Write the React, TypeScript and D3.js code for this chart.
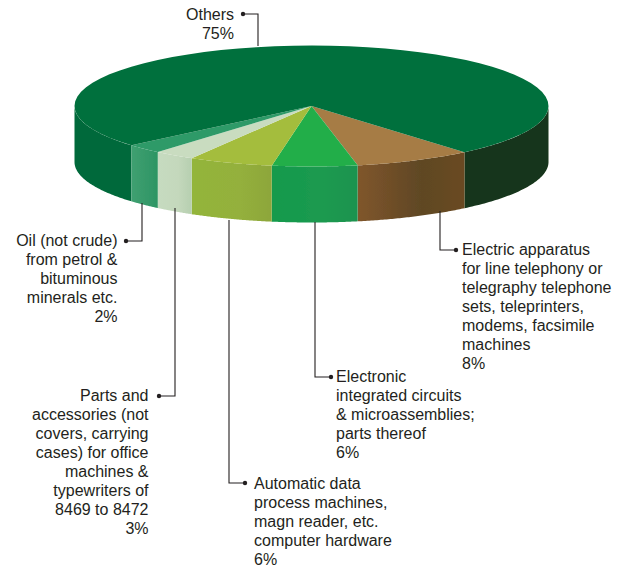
import React from "react";
import * as d3 from "d3";

const categories = ["Electric", "Circuits", "Automatic", "Parts", "Oil", "Others"];
// Swept share of each slice as measured on the picture; the printed percentages are in labelLines
const drawnShares = [8.05, 5.8, 5.75, 2.8, 2.5, 75.1];
const topColors = ["#a67c45", "#22ae4a", "#a4bd3c", "#c9dcc0", "#2f9a68", "#06703c"];
const sideStops = [
  ["#80562c", "#5f4724", "#6a4a20"],
  ["#149a4c", "#1c9a50", "#1f9350"],
  ["#93b53a", "#94b03c", "#8da63a"],
  ["#c6dbc0", "#c4d8bc", "#b6cfb0"],
  ["#3fa070", "#35996a", "#2c9563"],
];

const labelAnchors = ["start", "start", "start", "end", "end", "end"];
const labelLines = [
  ["Electric apparatus", "for line telephony or", "telegraphy telephone", "sets, teleprinters,", "modems, facsimile", "machines", "8%"],
  ["Electronic", "integrated circuits", "& microassemblies;", "parts thereof", "6%"],
  ["Automatic data", "process machines,", "magn reader, etc.", "computer hardware", "6%"],
  ["Parts and", "accessories (not", "covers, carrying", "cases) for office", "machines &", "typewriters of", "8469 to 8472", "3%"],
  ["Oil (not crude)", "from petrol &", "bituminous", "minerals etc.", "2%"],
  ["Others", "75%"],
];
// leader: [x on pie edge, y on pie edge, elbow y, dot x, text x, first baseline]
const leaders = [
  [440, 211, 250, 456, 462, 255],
  [315, 222, 377, 331, 336, 382],
  [229, 220, 483, 245, 254, 489],
  [175, 208, 396, 159, 148.5, 400.5],
  [142, 203, 241, 126, 117.5, 245.5],
  [258, 46, 14, 243, 234, 20],
];

const CX = 311.5, CY = 106, RX = 237, RY = 60.5, DEPTH = 56, LH = 19;
const START = (40.2 * Math.PI) / 180;

export default function App() {
  const arcs = d3.pie<number>().sort(null).value((d) => d)(drawnShares);
  const px = d3.scaleLinear().domain([-1, 1]).range([CX - RX, CX + RX]);
  const py = d3.scaleLinear().domain([-1, 1]).range([CY - RY, CY + RY]);
  const pt = (a: number, off = 0): [number, number] => [px(Math.sin(a)), py(Math.cos(a)) + off];
  const sample = (a0: number, a1: number) => d3.range(0, 61).map((i) => a0 + ((a1 - a0) * i) / 60);
  const line = d3.line<[number, number]>();

  // angle 0 = front of the pie; slices run clockwise on screen from the right of the front
  const slices = arcs.map((d, i) => ({
    i,
    a0: START - d.startAngle,
    a1: START - d.endAngle,
  }));
  const topPath = (a0: number, a1: number) => line([[CX, CY], ...sample(a0, a1).map((a) => pt(a))])! + "Z";
  const sidePath = (a0: number, a1: number) => {
    const pts = sample(a0, a1);
    return line([...pts.map((a) => pt(a)), ...pts.slice().reverse().map((a) => pt(a, DEPTH))])! + "Z";
  };

  return (
    <svg width={622} height={568} style={{ position: "absolute", left: 0, top: 0 }} fontFamily="Liberation Sans, Arial, sans-serif" fontSize={16} fill="#231f20">
      <defs>
        <filter id="soft"><feGaussianBlur stdDeviation="0.5" /></filter>
        {sideStops.map((s, i) => (
          <linearGradient key={i} id={`g${i}`} x1="0" x2="1" y1="0" y2="0">
            <stop offset="0" stopColor={s[0]} />
            <stop offset="0.6" stopColor={s[1]} />
            <stop offset="1" stopColor={s[2]} />
          </linearGradient>
        ))}
      </defs>
      <rect width={622} height={568} fill="#fff" />
      <g filter="url(#soft)">
        <path d={sidePath(START, Math.PI / 2)} fill="#16361a" />
        <path d={sidePath(-Math.PI / 2, slices[5].a0)} fill="#06693a" />
        {slices.slice(0, 5).map((s) => (
          <path key={s.i} d={sidePath(s.a0, s.a1)} fill={`url(#g${s.i})`} />
        ))}
        {slices.map((s) => (
          <path key={s.i} d={topPath(s.a0, s.a1)} fill={topColors[s.i]} />
        ))}
      </g>
      {leaders.map((l, i) => {
        const [ex, ey, ly, dx, tx, by] = l;
        return (
          <g key={categories[i]}>
            <path d={`M${ex},${ey}V${ly}H${dx}`} fill="none" stroke="#231f20" strokeWidth={1.1} />
            <circle cx={dx} cy={ly} r={2.2} />
            <text textAnchor={labelAnchors[i]}>
              {labelLines[i].map((t, j) => (
                <tspan key={j} x={tx} y={by + j * LH}>{t}</tspan>
              ))}
            </text>
          </g>
        );
      })}
    </svg>
  );
}
